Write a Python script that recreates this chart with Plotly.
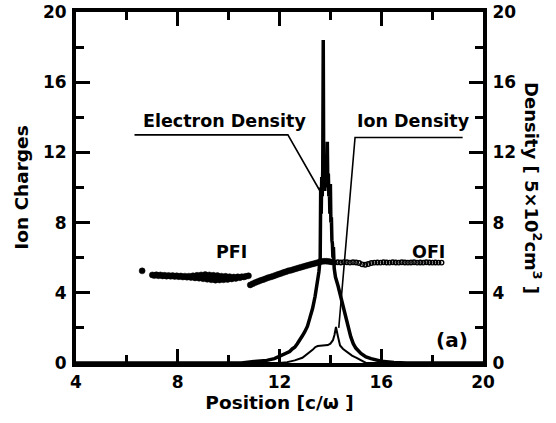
import plotly.graph_objects as go

# ---- data ----
charge_x = [6.60, 7.00, 7.08, 7.16, 7.24, 7.32, 7.40, 7.48, 7.56, 7.64, 7.72, 7.80, 7.88, 7.96,
            8.04, 8.12, 8.20, 8.28, 8.36, 8.44, 8.52, 8.60, 8.68, 8.76, 8.84, 8.92, 9.00, 9.08,
            9.16, 9.24, 9.32, 9.40, 9.48, 9.56, 9.64, 9.72, 9.80, 9.88, 9.96, 10.04, 10.12, 10.20,
            10.28, 10.36, 10.44, 10.52, 10.60, 10.68, 10.78,
            10.85, 10.95, 11.05, 11.15, 11.25, 11.35, 11.45, 11.55, 11.65, 11.75, 11.85, 11.95,
            12.05, 12.15, 12.25, 12.35, 12.45, 12.55, 12.65, 12.75, 12.85, 12.95, 13.05, 13.15,
            13.25, 13.35, 13.45, 13.55, 13.65, 13.75, 13.85, 13.95, 14.05,
            14.17, 14.29, 14.41, 14.53, 14.65, 14.77, 14.89, 15.01, 15.13, 15.25, 15.37, 15.49,
            15.61, 15.73, 15.85, 15.97, 16.09, 16.21, 16.33, 16.45, 16.57, 16.69, 16.81, 16.93,
            17.05, 17.17, 17.29, 17.41, 17.53, 17.65, 17.77, 17.89, 18.01, 18.13, 18.25, 18.37]
charge_y = [5.25, 5.02, 4.98, 5.03, 4.97, 5.02, 4.96, 5.00, 4.95, 4.99, 4.94, 4.98, 4.93, 4.97,
            4.92, 4.96, 4.90, 4.95, 4.89, 4.95, 4.87, 4.97, 4.85, 5.00, 4.83, 5.02, 4.80, 5.04,
            4.77, 5.02, 4.74, 5.00, 4.72, 4.98, 4.73, 4.95, 4.74, 4.94, 4.76, 4.92, 4.79, 4.90,
            4.82, 4.91, 4.86, 4.92, 4.90, 4.94, 4.97,
            4.45, 4.52, 4.58, 4.64, 4.70, 4.75, 4.80, 4.86, 4.90, 4.95, 5.00, 5.05,
            5.10, 5.15, 5.20, 5.25, 5.28, 5.33, 5.37, 5.42, 5.46, 5.50, 5.54, 5.58,
            5.62, 5.66, 5.70, 5.74, 5.78, 5.80, 5.80, 5.78, 5.76,
            5.72, 5.74, 5.73, 5.75, 5.74, 5.72, 5.74, 5.73, 5.70, 5.62, 5.60, 5.64,
            5.70, 5.72, 5.73, 5.72, 5.74, 5.73, 5.72, 5.74, 5.73, 5.72, 5.74, 5.73,
            5.72, 5.73, 5.74, 5.72, 5.73, 5.72, 5.74, 5.73, 5.72, 5.73, 5.72, 5.72]

edens_x = [4.0, 10.5, 11.0, 11.5, 11.8, 12.0, 12.2, 12.4, 12.5, 12.6, 12.7, 12.8, 12.9, 13.0,
           13.1, 13.2, 13.3, 13.4, 13.5, 13.55, 13.6, 13.62, 13.64, 13.66, 13.68, 13.70, 13.72,
           13.74, 13.76, 13.78, 13.80, 13.82, 13.84, 13.86, 13.88, 13.90, 13.92, 13.94, 13.96,
           13.98, 14.00, 14.02, 14.04, 14.06, 14.08, 14.10, 14.12, 14.15, 14.20, 14.30, 14.40,
           14.50, 14.60, 14.70, 14.80, 14.90, 15.00, 15.20, 15.40, 15.60, 15.80, 16.00, 16.50,
           17.00, 20.0]
edens_y = [0.0, 0.0, 0.08, 0.15, 0.25, 0.4, 0.5, 0.65, 0.8, 0.9, 1.1, 1.3, 1.55, 1.8,
           2.1, 2.6, 3.1, 3.8, 4.6, 5.2, 6.0, 10.0, 8.5, 10.6, 9.5, 11.0, 18.4,
           10.0, 11.0, 9.8, 11.3, 10.0, 11.5, 10.2, 12.6, 10.0, 10.8, 9.5, 10.0,
           8.5, 10.2, 8.0, 8.3, 7.0, 6.8, 6.0, 6.6, 5.4, 4.9, 4.4, 3.8,
           3.1, 2.5, 2.0, 1.5, 1.1, 0.85, 0.55, 0.35, 0.25, 0.15, 0.1, 0.03,
           0.0, 0.0]

idens_x = [4.0, 12.0, 12.3, 12.6, 12.9, 13.1, 13.3, 13.4, 13.5, 13.7, 13.9, 14.0, 14.1, 14.16,
           14.22, 14.3, 14.38, 14.5, 14.65, 14.85, 15.05, 15.2, 15.4, 16.0, 20.0]
idens_y = [0.0, 0.0, 0.05, 0.15, 0.3, 0.5, 0.75, 0.9, 0.97, 1.0, 1.02, 1.1, 1.3, 1.6,
           2.05, 1.5, 1.0, 0.8, 0.63, 0.42, 0.28, 0.15, 0.0, 0.0, 0.0]

x_ticks = [4, 8, 12, 16, 20]
y_ticks = [0, 4, 8, 12, 16, 20]

FONT = "DejaVu Sans, sans-serif"

# split ion-charge points: dense filled part (PFI + ramp) and the open-circle OFI chain
split = 14.1
dense_x = [x for x in charge_x if x < split]
dense_y = [y for x, y in zip(charge_x, charge_y) if x < split]
chain_x = [x for x in charge_x if x >= split]
chain_y = [y for x, y in zip(charge_x, charge_y) if x >= split]

fig = go.Figure()
fig.add_trace(go.Scatter(x=edens_x, y=edens_y, mode="lines",
                         line=dict(color="black", width=3.5), showlegend=False))
fig.add_trace(go.Scatter(x=idens_x, y=idens_y, mode="lines",
                         line=dict(color="black", width=2), showlegend=False))
fig.add_trace(go.Scatter(x=dense_x, y=dense_y, mode="markers",
                         marker=dict(symbol="circle", size=6, color="black",
                                     line=dict(color="black", width=0.5)),
                         showlegend=False))
fig.add_trace(go.Scatter(x=chain_x, y=chain_y, mode="markers",
                         marker=dict(symbol="circle-open", size=4.5, color="black",
                                     line=dict(color="black", width=1.4)),
                         showlegend=False))
# invisible trace to activate the right axis
fig.add_trace(go.Scatter(x=[4], y=[0], yaxis="y2", mode="markers",
                         marker=dict(opacity=0), showlegend=False, hoverinfo="skip"))

tick_font = dict(family=FONT, size=17, color="black", weight="bold")
axis_common = dict(showline=True, linecolor="black", linewidth=4, showgrid=False,
                   zeroline=False, ticks="inside", ticklen=14, tickwidth=3,
                   tickcolor="black", tickfont=tick_font, automargin=False)

fig.update_layout(
    width=556, height=423,
    margin=dict(l=76, r=73, t=12, b=60),
    plot_bgcolor="white", paper_bgcolor="white",
    xaxis=dict(range=[4, 20], tickvals=x_ticks, mirror="ticks",
               minor=dict(tickvals=[6, 10, 14, 18], ticks="inside", ticklen=8,
                          tickwidth=3, tickcolor="black"),
               title=dict(text="Position [c/ω ]",
                          font=dict(family=FONT, size=18.5, color="black", weight="bold"),
                          standoff=2),
               ticklabelstandoff=1,
               **axis_common),
    yaxis=dict(range=[0, 20], tickvals=y_ticks,
               minor=dict(tickvals=[2, 6, 10, 14, 18], ticks="inside", ticklen=8,
                          tickwidth=3, tickcolor="black"),
               title=dict(text="Ion Charges",
                          font=dict(family=FONT, size=18.5, color="black", weight="bold"),
                          standoff=10),
               ticklabelstandoff=2,
               **axis_common),
    yaxis2=dict(range=[0, 20], tickvals=y_ticks, overlaying="y", side="right",
                minor=dict(tickvals=[2, 6, 10, 14, 18], ticks="inside", ticklen=8,
                           tickwidth=3, tickcolor="black"),
                ticklabelstandoff=2,
                **axis_common),
    showlegend=False,
)


def px(xp):
    return (xp - 76) / (483 - 76)


def py(yp):
    return (363 - yp) / (363 - 12)


ann_font = dict(family=FONT, size=17.5, color="black", weight="bold")
common_anchor = dict(xanchor="center", yanchor="middle", showarrow=False)
fig.add_annotation(text="Electron Density", x=px(224), y=py(121), xref="paper", yref="paper",
                   font=ann_font, **common_anchor)
fig.add_annotation(text="Ion Density", x=px(413), y=py(121), xref="paper", yref="paper",
                   font=ann_font, **common_anchor)
fig.add_annotation(text="PFI", x=10.13, y=6.3, xref="x", yref="y", font=ann_font,
                   **common_anchor)
fig.add_annotation(text="OFI", x=17.84, y=6.3, xref="x", yref="y", font=ann_font,
                   **common_anchor)
fig.add_annotation(text="(a)", x=18.8, y=1.3, xref="x", yref="y",
                   font=dict(family=FONT, size=20, color="black", weight="bold"),
                   **common_anchor)
fig.add_annotation(text="Density [ 5×10<sup>2</sup>cm<sup>3</sup> ]", x=px(533), y=py(188),
                   xref="paper", yref="paper", textangle=90,
                   font=dict(family=FONT, size=18, color="black", weight="bold"),
                   **common_anchor)

# leader lines
fig.add_shape(type="path", xref="x", yref="y",
              path="M 6.3 13.0 L 12.33 13.0 L 13.67 9.6",
              line=dict(color="black", width=1.6))
fig.add_shape(type="path", xref="x", yref="y",
              path="M 19.2 12.85 L 14.97 12.85 L 14.33 2.0",
              line=dict(color="black", width=1.6))

fig.write_html("out.html")
